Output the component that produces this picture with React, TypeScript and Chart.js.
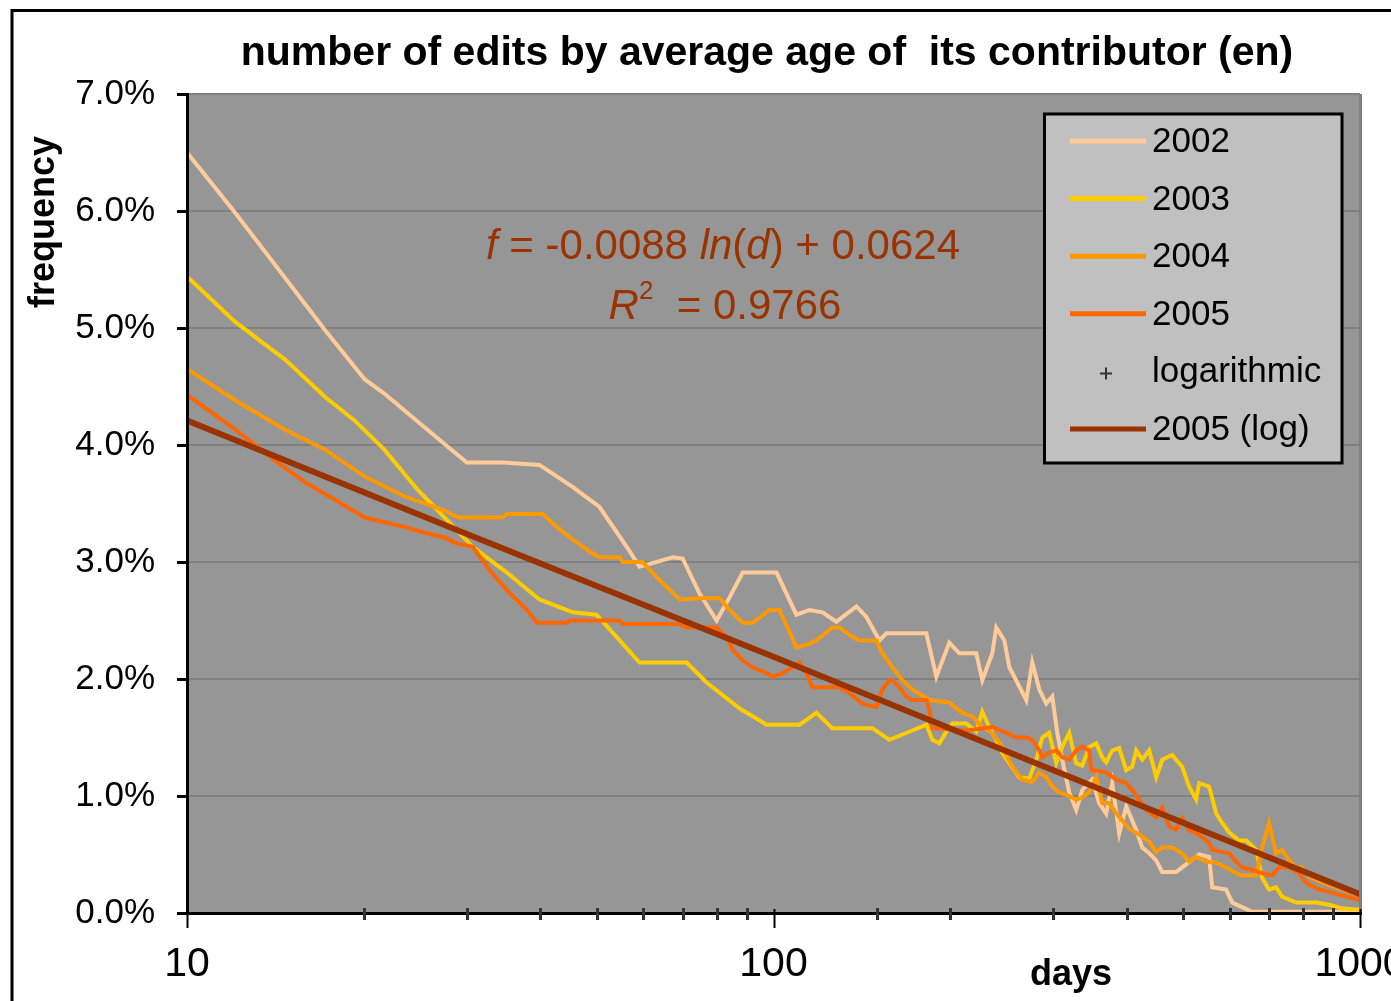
import React, { useEffect, useRef } from "react";
import { Chart, registerables } from "chart.js";

Chart.register(...registerables);

// ---------- text ----------
const TITLE = "number of edits by average age of  its contributor (en)";
const Y_TITLE = "frequency";
const X_TITLE = "days";
const X_LABELED = [10, 100, 1000];
const Y_MIN = 0;
const Y_MAX = 7;

// ---------- data (days, frequency in %) ----------
const days2002 = [10, 12.1, 17.2, 20.1, 21.7, 27.0, 30.0, 34.5, 39.9, 45.5, 50.5, 56.2, 59.1, 62.2, 67.3, 70.0, 74.8, 80.0, 84.2, 88.6, 101.2, 109.4, 115.2, 121.2, 128.0, 138.5, 144.0, 151.6, 155.8, 182.2, 189.5, 199.4, 207.4, 221.7, 227.0, 236.1, 239.8, 247.5, 252.4, 260.4, 269.8, 276.2, 283.9, 291.8, 298.7, 304.7, 310.7, 319.3, 328.2, 336.1, 349.5, 359.2, 369.2, 378.0, 388.6, 399.4, 415.4, 425.3, 437.1, 449.3, 460.0, 485.9, 497.5, 531.8, 553.1, 559.6, 591.2, 605.3, 629.5, 654.7, 1000];
const freq2002 = [6.50, 5.98, 4.98, 4.56, 4.44, 4.04, 3.85, 3.85, 3.83, 3.64, 3.47, 3.13, 2.96, 2.99, 3.04, 3.03, 2.73, 2.50, 2.70, 2.91, 2.91, 2.55, 2.59, 2.57, 2.49, 2.62, 2.53, 2.33, 2.39, 2.39, 2.02, 2.31, 2.22, 2.22, 1.99, 2.22, 2.44, 2.33, 2.10, 1.97, 1.82, 2.14, 1.91, 1.79, 1.85, 1.54, 1.31, 1.03, 0.88, 1.05, 1.14, 0.94, 0.85, 1.11, 0.68, 0.91, 0.71, 0.56, 0.51, 0.45, 0.35, 0.35, 0.39, 0.50, 0.48, 0.22, 0.20, 0.09, 0.05, 0.01, 0.01];

const days2003 = [10, 12.1, 14.7, 17.2, 19.3, 21.7, 24.7, 27.5, 30.7, 35.1, 39.9, 45.5, 49.9, 54.0, 59.1, 71.1, 76.9, 87.5, 97.3, 110.7, 118.4, 126.0, 147.4, 157.6, 172.5, 182.2, 186.6, 191.8, 197.1, 201.8, 213.2, 221.7, 227.0, 233.3, 239.8, 245.5, 252.4, 262.5, 273.0, 280.6, 287.3, 295.2, 303.5, 310.7, 319.3, 328.2, 336.1, 345.4, 355.0, 363.5, 369.2, 378.0, 388.6, 399.4, 408.9, 415.4, 425.3, 437.1, 449.3, 460.0, 478.4, 497.5, 511.3, 525.6, 531.8, 553.1, 568.5, 582.0, 598.2, 622.2, 639.5, 665.1, 680.9, 699.9, 719.3, 736.5, 778.0, 841.5, 885.6, 931.9, 984.5, 1000];
const freq2003 = [5.44, 5.05, 4.73, 4.41, 4.21, 3.96, 3.62, 3.38, 3.13, 2.91, 2.68, 2.57, 2.55, 2.36, 2.14, 2.14, 1.97, 1.75, 1.61, 1.61, 1.71, 1.58, 1.58, 1.48, 1.56, 1.61, 1.48, 1.45, 1.55, 1.62, 1.62, 1.55, 1.72, 1.59, 1.48, 1.37, 1.28, 1.16, 1.15, 1.31, 1.50, 1.54, 1.28, 1.42, 1.54, 1.28, 1.26, 1.42, 1.45, 1.33, 1.29, 1.39, 1.41, 1.22, 1.25, 1.39, 1.31, 1.39, 1.16, 1.31, 1.35, 1.25, 1.08, 0.97, 1.11, 1.08, 0.85, 0.77, 0.69, 0.62, 0.62, 0.54, 0.30, 0.20, 0.22, 0.14, 0.09, 0.09, 0.07, 0.04, 0.03, 0.03];

const days2004 = [10, 12.1, 14.7, 17.2, 20.1, 23.5, 27.5, 29.0, 34.5, 35.1, 40.4, 42.7, 45.5, 48.6, 50.5, 54.7, 55.3, 59.8, 63.2, 69.2, 74.8, 80.9, 84.2, 88.6, 92.1, 98.4, 102.4, 109.4, 113.8, 118.4, 126.0, 129.6, 136.3, 140.1, 149.8, 153.3, 159.5, 165.9, 172.5, 184.4, 199.4, 209.9, 218.3, 227.0, 236.1, 245.5, 255.4, 265.6, 276.2, 283.9, 291.8, 298.7, 307.1, 315.6, 328.2, 336.1, 345.4, 355.0, 363.5, 373.6, 384.0, 393.2, 404.1, 420.3, 437.1, 449.3, 460.0, 478.4, 497.5, 511.3, 525.6, 546.6, 568.5, 591.2, 614.9, 629.5, 665.1, 680.9, 699.9, 719.3, 736.5, 757.0, 778.0, 796.6, 818.8, 861.6, 910.2, 957.8, 1000];
const freq2004 = [4.65, 4.38, 4.13, 3.96, 3.73, 3.56, 3.44, 3.38, 3.38, 3.41, 3.41, 3.30, 3.19, 3.09, 3.04, 3.04, 3.00, 3.00, 2.87, 2.68, 2.69, 2.69, 2.59, 2.48, 2.48, 2.59, 2.59, 2.27, 2.29, 2.33, 2.44, 2.44, 2.36, 2.33, 2.33, 2.22, 2.10, 1.99, 1.91, 1.82, 1.80, 1.71, 1.68, 1.59, 1.54, 1.42, 1.25, 1.14, 1.12, 1.20, 1.16, 1.08, 1.03, 1.01, 0.97, 0.99, 1.03, 1.16, 0.94, 0.94, 0.85, 0.79, 0.72, 0.67, 0.61, 0.52, 0.56, 0.56, 0.51, 0.44, 0.48, 0.44, 0.43, 0.39, 0.34, 0.32, 0.32, 0.56, 0.77, 0.51, 0.54, 0.45, 0.39, 0.39, 0.31, 0.26, 0.22, 0.18, 0.15];

const days2005 = [10, 12.1, 14.1, 15.9, 17.9, 20.1, 21.7, 23.5, 25.4, 27.5, 28.8, 30.7, 32.8, 35.1, 38.0, 39.5, 44.4, 44.9, 54.7, 55.3, 69.2, 71.1, 80.0, 83.2, 85.2, 88.6, 92.1, 97.3, 99.6, 103.6, 107.7, 110.7, 113.8, 116.5, 129.6, 134.7, 141.8, 149.8, 153.3, 157.6, 159.5, 163.9, 168.5, 172.5, 182.2, 184.4, 186.6, 213.2, 236.1, 249.4, 259.4, 269.8, 276.2, 283.9, 287.3, 295.2, 303.5, 310.7, 319.3, 328.2, 336.1, 345.4, 348.1, 355.0, 369.2, 384.0, 399.4, 404.1, 415.4, 432.0, 449.3, 460.0, 472.8, 485.9, 497.5, 511.3, 531.8, 553.1, 559.6, 582.0, 598.2, 614.9, 629.5, 654.7, 680.9, 708.1, 727.9, 757.0, 787.2, 809.2, 841.5, 885.6, 931.9, 1000];
const freq2005 = [4.43, 4.13, 3.87, 3.68, 3.53, 3.38, 3.34, 3.30, 3.25, 3.21, 3.16, 3.13, 2.93, 2.76, 2.59, 2.48, 2.48, 2.50, 2.50, 2.47, 2.47, 2.44, 2.44, 2.36, 2.25, 2.16, 2.10, 2.05, 2.02, 2.05, 2.10, 2.14, 2.05, 1.93, 1.93, 1.88, 1.79, 1.76, 1.91, 1.99, 1.99, 1.93, 1.85, 1.82, 1.82, 1.74, 1.58, 1.56, 1.59, 1.54, 1.50, 1.50, 1.48, 1.39, 1.33, 1.37, 1.39, 1.33, 1.31, 1.39, 1.42, 1.39, 1.22, 1.22, 1.20, 1.14, 1.11, 1.08, 1.01, 0.88, 0.82, 0.90, 0.74, 0.71, 0.81, 0.71, 0.67, 0.60, 0.54, 0.52, 0.51, 0.44, 0.39, 0.37, 0.34, 0.32, 0.39, 0.39, 0.34, 0.26, 0.21, 0.18, 0.15, 0.11];

const daysLog = [10, 30, 100, 300, 1000];
const freqLog = [4.21, 3.24, 2.19, 1.22, 0.16];

const EQUATION = ["f", " = -0.0088 ", "ln", "(", "d", ") + 0.0624"];
const R2_VALUE = "0.9766";

// ---------- styles ----------
const FONT = "'Liberation Sans', Arial, Helvetica, sans-serif";
const NARROW = "'Liberation Sans Narrow', 'Arial Narrow', 'Liberation Sans', Arial, sans-serif";
const COLORS = {
  c2002: "#FFCC99",
  c2003: "#FFCC00",
  c2004: "#FF9900",
  c2005: "#FF6600",
  log: "#993300",
  plot: "#969696",
  grid: "#808080",
  legendBg: "#C0C0C0",
};

const pts = (xs: number[], ys: number[]) => xs.map((x, i) => ({ x, y: ys[i] }));

const decorPlugin = {
  id: "decor",
  beforeDraw(chart: any) {
    const { ctx, chartArea: a } = chart;
    ctx.save();
    ctx.fillStyle = "#ffffff";
    ctx.fillRect(0, 0, chart.width, chart.height);
    ctx.fillStyle = COLORS.plot;
    ctx.fillRect(a.left, a.top, a.right - a.left, a.bottom - a.top);
    ctx.restore();
  },
  afterDraw(chart: any) {
    const { ctx, chartArea: a } = chart;
    const xs = chart.scales.x;
    const ys = chart.scales.y;
    ctx.save();

    // outer chart border (left + top)
    ctx.strokeStyle = "#000";
    ctx.lineWidth = 3;
    ctx.beginPath();
    ctx.moveTo(12, 1001);
    ctx.lineTo(12, 10.5);
    ctx.lineTo(1391, 10.5);
    ctx.stroke();

    // plot right border
    ctx.strokeStyle = COLORS.grid;
    ctx.lineWidth = 3;
    ctx.beginPath();
    ctx.moveTo(a.right + 0.5, a.top);
    ctx.lineTo(a.right + 0.5, a.bottom);
    ctx.stroke();

    // y axis line and ticks
    ctx.strokeStyle = "#000";
    ctx.lineWidth = 3;
    ctx.beginPath();
    ctx.moveTo(a.left + 0.5, a.top - 1);
    ctx.lineTo(a.left + 0.5, a.bottom + 2);
    for (let v = Y_MIN; v <= Y_MAX; v++) {
      const y = Math.round(ys.getPixelForValue(v)) + 0.5;
      ctx.moveTo(a.left - 10, y);
      ctx.lineTo(a.left + 0.5, y);
    }
    ctx.stroke();

    // x axis line
    ctx.beginPath();
    ctx.moveTo(a.left - 10, a.bottom + 0.5);
    ctx.lineTo(a.right + 2, a.bottom + 0.5);
    ctx.stroke();

    // x ticks
    for (const t of xs.ticks) {
      const px = Math.round(xs.getPixelForValue(t.value)) + 0.5;
      if (X_LABELED.includes(t.value)) {
        ctx.strokeStyle = "#000";
        ctx.lineWidth = 2;
        ctx.beginPath();
        ctx.moveTo(px, a.bottom - 4);
        ctx.lineTo(px, a.bottom + 15);
        ctx.stroke();
      } else {
        ctx.strokeStyle = "#333333";
        ctx.lineWidth = 3;
        ctx.beginPath();
        ctx.moveTo(px, a.bottom - 5);
        ctx.lineTo(px, a.bottom + 7);
        ctx.stroke();
      }
    }

    // title
    ctx.fillStyle = "#000";
    ctx.textAlign = "center";
    ctx.textBaseline = "alphabetic";
    ctx.font = `bold 41px ${FONT}`;
    ctx.fillText(TITLE, 767, 65);

    // x title
    ctx.font = `bold 36px ${FONT}`;
    ctx.fillText(X_TITLE, 1071, 985);

    // y title
    ctx.save();
    ctx.translate(54, 222);
    ctx.rotate(-Math.PI / 2);
    ctx.fillText(Y_TITLE, 0, 0);
    ctx.restore();

    // regression annotation
    ctx.fillStyle = COLORS.log;
    const drawSegs = (segs: { t: string; f: string; dy?: number }[], cx: number, base: number) => {
      let total = 0;
      for (const s of segs) {
        ctx.font = s.f;
        total += ctx.measureText(s.t).width;
      }
      let x = cx - total / 2;
      ctx.textAlign = "left";
      for (const s of segs) {
        ctx.font = s.f;
        ctx.fillText(s.t, x, base + (s.dy || 0));
        x += ctx.measureText(s.t).width;
      }
    };
    const N = `42px ${FONT}`;
    const I = `italic 42px ${FONT}`;
    drawSegs(
      [
        { t: EQUATION[0], f: I },
        { t: EQUATION[1], f: N },
        { t: EQUATION[2], f: I },
        { t: EQUATION[3], f: N },
        { t: EQUATION[4], f: I },
        { t: EQUATION[5], f: N },
      ],
      723,
      259
    );
    drawSegs(
      [
        { t: "R", f: I },
        { t: "2", f: `26px ${FONT}`, dy: -20 },
        { t: "  = " + R2_VALUE, f: N },
      ],
      725,
      319
    );

    // legend
    const lx = 1044.5;
    const ly = 114;
    const lw = 297.5;
    const lh = 349;
    ctx.fillStyle = COLORS.legendBg;
    ctx.fillRect(lx, ly, lw, lh);
    ctx.strokeStyle = "#000";
    ctx.lineWidth = 3;
    ctx.strokeRect(lx, ly, lw, lh);
    ctx.font = `35px ${FONT}`;
    ctx.textAlign = "left";
    ctx.textBaseline = "alphabetic";
    chart.data.datasets.forEach((ds: any, i: number) => {
      const cy = 141 + i * 57.6;
      if (ds.showLine === false) {
        ctx.strokeStyle = "#333333";
        ctx.lineWidth = 2;
        ctx.beginPath();
        ctx.moveTo(1100, cy + 2);
        ctx.lineTo(1112, cy + 2);
        ctx.moveTo(1106, cy - 4);
        ctx.lineTo(1106, cy + 8);
        ctx.stroke();
      } else {
        ctx.strokeStyle = ds.borderColor;
        ctx.lineWidth = 5;
        ctx.beginPath();
        ctx.moveTo(1070, cy);
        ctx.lineTo(1146, cy);
        ctx.stroke();
      }
      ctx.fillStyle = "#000";
      ctx.fillText(ds.label, 1152, cy + 11);
    });

    ctx.restore();
  },
};

export default function App() {
  const ref = useRef<HTMLCanvasElement | null>(null);

  useEffect(() => {
    if (!ref.current) return;
    Chart.defaults.font.family = FONT;
    const line = (label: string, xs: number[], ys: number[], color: string, width: number, order: number) => ({
      label,
      data: pts(xs, ys),
      borderColor: color,
      backgroundColor: color,
      borderWidth: width,
      pointRadius: 0,
      tension: 0,
      fill: false,
      order,
    });
    const chart = new Chart(ref.current, {
      type: "line",
      data: {
        datasets: [
          line("2002", days2002, freq2002, COLORS.c2002, 4, 5),
          line("2003", days2003, freq2003, COLORS.c2003, 4, 4),
          line("2004", days2004, freq2004, COLORS.c2004, 4, 3),
          line("2005", days2005, freq2005, COLORS.c2005, 4, 2),
          {
            label: "logarithmic",
            data: [],
            showLine: false,
            pointStyle: "cross",
            borderColor: "#333333",
            pointRadius: 0,
            order: 6,
          } as any,
          line("2005 (log)", daysLog, freqLog, COLORS.log, 6, 0),
        ],
      },
      options: {
        responsive: false,
        animation: false,
        events: [],
        layout: { padding: { left: 0, top: 94, right: 31, bottom: 0 } },
        plugins: {
          legend: { display: false },
          title: { display: false },
          tooltip: { enabled: false },
        },
        scales: {
          x: {
            type: "logarithmic",
            min: 10,
            max: 1000,
            grid: { display: false, drawTicks: false },
            border: { display: false },
            afterFit: (s: any) => {
              s.height = 88;
              s.paddingLeft = 0;
              s.paddingRight = 0;
            },
            ticks: {
              autoSkip: false,
              maxRotation: 0,
              minRotation: 0,
              padding: 27,
              color: "#000",
              font: { family: NARROW, size: 41 },
              callback: (v: any) => (X_LABELED.includes(Number(v)) ? String(v) : ""),
            },
          },
          y: {
            type: "linear",
            min: Y_MIN,
            max: Y_MAX,
            grid: {
              drawTicks: false,
              lineWidth: 2,
              color: (c: any) => (c.tick && c.tick.value === 0 ? "rgba(0,0,0,0)" : COLORS.grid),
            },
            border: { display: false },
            afterFit: (s: any) => {
              s.width = 187;
            },
            ticks: {
              stepSize: 1,
              padding: 32,
              color: "#000",
              font: { family: FONT, size: 35 },
              callback: (v: any) => Number(v).toFixed(1) + "%",
            },
          },
        },
      },
      plugins: [decorPlugin],
    } as any);
    return () => chart.destroy();
  }, []);

  return (
    <div style={{ position: "absolute", left: 0, top: 0, width: 1391, height: 1001 }}>
      <canvas ref={ref} width={1391} height={1001} style={{ display: "block", width: 1391, height: 1001 }} />
    </div>
  );
}
